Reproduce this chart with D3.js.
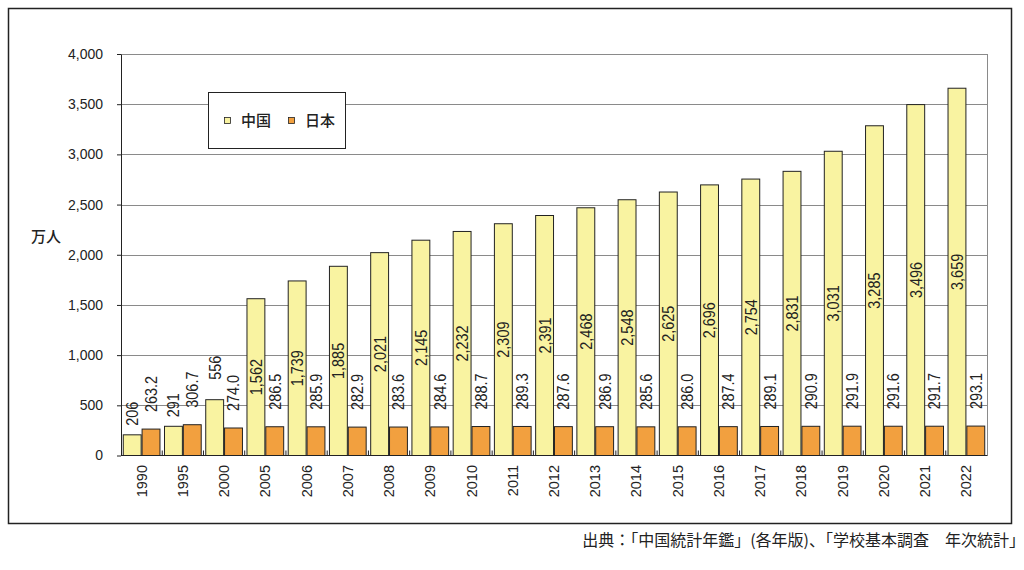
<!DOCTYPE html>
<html>
<head>
<meta charset="utf-8">
<script src="https://cdn.jsdelivr.net/npm/d3@7"></script>
<style>
  body { margin: 0; background: #fff; }
  svg { display: block; }
  text { font-family: "Liberation Sans", Arial, sans-serif; fill: #222; }
  .jp { font-family: "Noto Sans CJK JP", sans-serif; }
</style>
</head>
<body>
<svg width="1024" height="570"></svg>
<script>
const years = ['1990','1995','2000','2005','2006','2007','2008','2009','2010','2011','2012','2013','2014','2015','2016','2017','2018','2019','2020','2021','2022'];
const china = [206,291,556,1562,1739,1885,2021,2145,2232,2309,2391,2468,2548,2625,2696,2754,2831,3031,3285,3496,3659];
const japan = [263.2,306.7,274.0,286.5,285.9,282.9,283.6,284.6,288.7,289.3,287.6,286.9,285.6,286.0,287.4,289.1,290.9,291.9,291.6,291.7,293.1];
const yTicks = [0,500,1000,1500,2000,2500,3000,3500,4000];
const seriesNames = ['中国','日本'];

const svg = d3.select('svg');

const plotLeft = 121, plotRight = 987, plotTop = 54, plotBottom = 455.5;
const yellow = '#f9f3a1';
const orange = '#f2a03f';

// outer frame
svg.append('rect')
  .attr('x', 8.5).attr('y', 8.5)
  .attr('width', 1003).attr('height', 515)
  .attr('fill', 'none')
  .attr('stroke', '#222')
  .attr('stroke-width', 1.5);

const x = d3.scaleBand().domain(years).range([plotLeft, plotRight]);
const y = d3.scaleLinear().domain([0, 4000]).range([plotBottom, plotTop]);

// gridlines
svg.append('g')
  .selectAll('line')
  .data(yTicks.slice(1))
  .join('line')
  .attr('x1', plotLeft).attr('x2', plotRight)
  .attr('y1', d => Math.round(y(d)) + 0.5).attr('y2', d => Math.round(y(d)) + 0.5)
  .attr('stroke', '#8a8a8a');

svg.append('line')
  .attr('x1', plotRight + 0.5).attr('x2', plotRight + 0.5)
  .attr('y1', y(4000)).attr('y2', plotBottom)
  .attr('stroke', '#8a8a8a');

// y axis
const yAxis = svg.append('g')
  .attr('transform', `translate(${plotLeft},0)`)
  .call(d3.axisLeft(y).tickValues(yTicks).tickFormat(d3.format(',')).tickSizeOuter(0).tickSizeInner(4).tickPadding(14));
yAxis.select('.domain').attr('stroke', '#222');
yAxis.selectAll('.tick line').attr('stroke', '#222');
yAxis.selectAll('.tick text')
  .attr('font-size', 14)
  .attr('font-family', '"Liberation Sans", Arial, sans-serif')
  .attr('fill', '#333');

// bars
const inner = d3.scaleBand().domain(seriesNames).range([0, x.bandwidth()]).paddingOuter(0.12).paddingInner(0.05);

const groups = svg.append('g')
  .selectAll('g')
  .data(years)
  .join('g')
  .attr('transform', d => `translate(${x(d)},0)`);

groups.append('rect')
  .attr('x', inner('中国'))
  .attr('y', (d, i) => y(china[i]))
  .attr('width', inner.bandwidth())
  .attr('height', (d, i) => plotBottom - y(china[i]))
  .attr('fill', yellow)
  .attr('stroke', '#222')
  .attr('stroke-width', 1);

groups.append('rect')
  .attr('x', inner('日本'))
  .attr('y', (d, i) => y(japan[i]))
  .attr('width', inner.bandwidth())
  .attr('height', (d, i) => plotBottom - y(japan[i]))
  .attr('fill', orange)
  .attr('stroke', '#222')
  .attr('stroke-width', 1);

// labels are a little condensed in the original
const squeeze = 'scale(0.85,1)';

// china labels
groups.append('text')
  .attr('transform', (d, i) => {
    const cx = inner('中国') + inner.bandwidth() / 2;
    const cy = china[i] > 1000 ? (y(china[i]) + plotBottom) / 2 : y(china[i]) - (china[i] > 500 ? 20 : 9);
    return `translate(${cx},${cy}) rotate(-90) ${squeeze}`;
  })
  .attr('text-anchor', (d, i) => china[i] > 1000 ? 'middle' : 'start')
  .attr('dominant-baseline', 'central')
  .attr('font-size', 17)
  .text((d, i) => d3.format(',')(china[i]));

// japan labels
groups.append('text')
  .attr('transform', (d, i) => {
    const cx = inner('日本') + inner.bandwidth() / 2;
    return `translate(${cx},${y(japan[i]) - 17}) rotate(-90) ${squeeze}`;
  })
  .attr('text-anchor', 'start')
  .attr('dominant-baseline', 'central')
  .attr('font-size', 17)
  .text((d, i) => d3.format('.1f')(japan[i]));

// x axis
svg.append('line')
  .attr('x1', plotLeft).attr('x2', plotRight + 0.5)
  .attr('y1', plotBottom).attr('y2', plotBottom)
  .attr('stroke', '#222');

svg.append('g')
  .selectAll('line')
  .data(years.slice(1))
  .join('line')
  .attr('x1', d => x(d)).attr('x2', d => x(d))
  .attr('y1', plotBottom - 5).attr('y2', plotBottom)
  .attr('stroke', '#222');

svg.append('g')
  .selectAll('text')
  .data(years)
  .join('text')
  .attr('transform', d => `translate(${x(d) + x.bandwidth() / 2},465) rotate(-90)`)
  .attr('text-anchor', 'end')
  .attr('dominant-baseline', 'central')
  .attr('font-size', 14.5)
  .text(d => d);

// unit
svg.append('text')
  .attr('class', 'jp')
  .attr('x', 31).attr('y', 242)
  .attr('font-size', 15)
  .attr('font-weight', 500)
  .text('万人');

// legend
const legend = svg.append('g');
legend.append('rect')
  .attr('x', 208.5).attr('y', 92.5)
  .attr('width', 137).attr('height', 56)
  .attr('fill', '#fff')
  .attr('stroke', '#222');

const legendItems = legend.selectAll('g')
  .data(seriesNames)
  .join('g')
  .attr('transform', (d, i) => `translate(${224 + i * 64},0)`);

legendItems.append('rect')
  .attr('x', 0.5).attr('y', 117.5)
  .attr('width', 6).attr('height', 6)
  .attr('fill', (d, i) => i === 0 ? yellow : orange)
  .attr('stroke', '#222')
  .attr('stroke-width', 0.8);

legendItems.append('text')
  .attr('class', 'jp')
  .attr('x', 17).attr('y', 126)
  .attr('font-size', 15)
  .attr('font-weight', 500)
  .text(d => d);

// source
svg.append('text')
  .attr('class', 'jp')
  .attr('x', 1025).attr('y', 546)
  .attr('text-anchor', 'end')
  .attr('font-size', 16)
  .text('出典：「中国統計年鑑」(各年版)、「学校基本調査　年次統計」');
</script>
</body>
</html>
